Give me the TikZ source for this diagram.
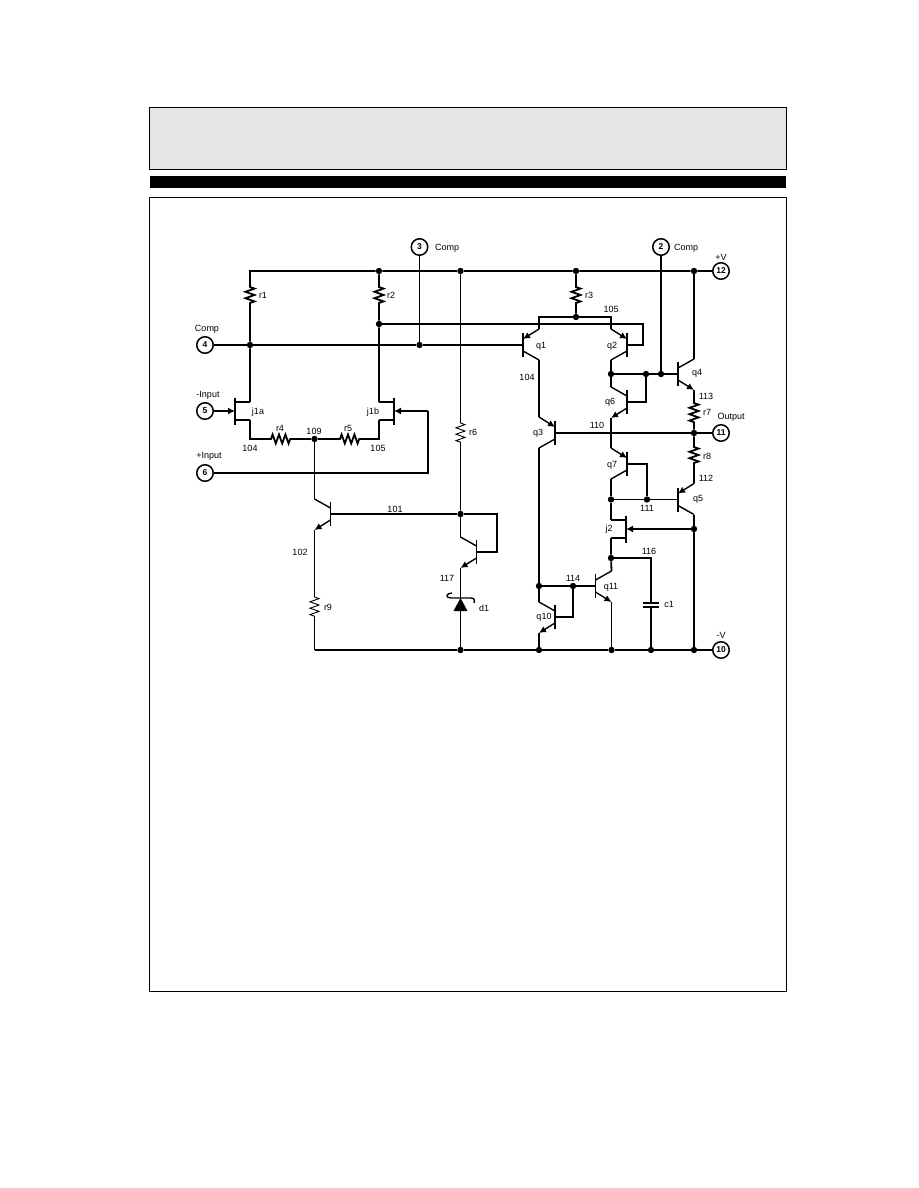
\documentclass[tikz,border=0pt]{standalone}
\usepackage{fontspec}
\setmainfont{Liberation Sans}
\usetikzlibrary{arrows.meta, decorations.pathmorphing}
\tikzset{
	frame/.style = {draw = black, line width = 0.9pt},
	wire/.style = {draw = black, line width = 1.8pt},
	thinwire/.style = {draw = black, line width = 0.9pt},
	arrow/.style = {wire, -{Latex[length = 7pt, width = 7pt]}},
	zz/.style = {decoration = {zigzag, segment length = 6.4, amplitude = 4.5}},
	junct/.style = {circle, fill = black, inner sep = 0pt, minimum size = 6.4pt},
	term/.style = {circle, draw = black, line width = 1.5pt, fill = white, inner sep = 0pt, minimum size = 16.5pt, font = \fontsize{8.5}{9}\selectfont\bfseries},
	lab/.style = {inner sep = 0pt, font = \fontsize{9}{10}\selectfont}
}
% transistors: name, x, y, side of the legs
\newcommand{\drawnpn}[4]{
	\coordinate (#1b) at (#2,#3);
	\coordinate (#1c) at (#2+#4*16,#3-15);
	\coordinate (#1e) at (#2+#4*16,#3+16);
	\draw [wire] (#2,#3-12) -- (#2,#3+12);
	\draw [thinwire, line width = 1.4pt] (#2,#3-6) -- (#1c);
	\draw [arrow, line width = 1.4pt] (#2,#3+6) -- (#1e);
}
\newcommand{\drawpnp}[4]{
	\coordinate (#1b) at (#2,#3);
	\coordinate (#1e) at (#2+#4*16,#3-16);
	\coordinate (#1c) at (#2+#4*16,#3+15);
	\draw [wire] (#2,#3-12) -- (#2,#3+12);
	\draw [thinwire, line width = 1.4pt] (#2,#3+6) -- (#1c);
	\draw [arrow, line width = 1.4pt] (#1e) -- (#2,#3-6);
}
\newcommand{\drawjfet}[4]{
	\coordinate (#1g) at (#2,#3);
	\coordinate (#1s) at (#2+#4*15,#3-9);
	\coordinate (#1d) at (#2+#4*15,#3+9);
	\draw [wire] (#2,#3-13.5) -- (#2,#3+13.5);
	\draw [wire] (#2,#3-9) -- (#1s);
	\draw [wire] (#2,#3+9) -- (#1d);
}
\begin{document}
\begin{tikzpicture}[x=1pt, y=-1pt]
	\useasboundingbox (0,0) rectangle (918,1188);
	%% page frames
	\draw [frame, fill = black!10] (149.5,107.5) rectangle (786,169);
	\fill [black] (149.5,176) rectangle (786,188);
	\draw [frame] (149.5,197) rectangle (786,991);

	% terminals
	\node (n2) [term] at (661,247) {2};
	\node (n3) [term] at (419.5,247) {3};
	\node (n4) [term] at (205,345) {4};
	\node (n5) [term] at (205,411) {5};
	\node (n6) [term] at (205,473) {6};
	\node (n10) [term] at (721,650) {10};
	\node (n11) [term] at (721,433) {11};
	\node (n12) [term] at (721,271) {12};

	% junctions
	\foreach \name/\px/\py in {vr1/379/271, vr2/460.5/271, vr3/576/271, vr4/694/271,
		jc1/250/345, jc2/419.5/345, jr2/379/324, je/576/317,
		jb1/611/374, jb2/646/374, jb3/661/374, jo/694/433,
		jm1/611/499.5, jm2/647/499.5, jm3/694/529, jm4/611/558, jm5/539/586, jm6/573/586,
		n109/314.5/439, n101/460.5/514,
		jg1/460.5/650, jg2/539/650, jg3/611.5/650, jg4/651/650, jg5/694/650}
		\node (\name) [junct] at (\px,\py) {};

	% bends and resistor ends
	\foreach \name/\px/\py in {tl/250/271, bl/314.5/650,
		r1a/250/287, r1b/250/306, r2a/379/287, r2b/379/306, r3a/576/287, r3b/576/306,
		r4a/271/439, r4b/291/439, r5a/340/439, r5b/360/439, r6a/460.5/423, r6b/460.5/443,
		r7a/694/403, r7b/694/423, r8a/694/447, r8b/694/466, r9a/314.5/597, r9b/314.5/617,
		a1/643/324, a2/643/345, et1/539/317, et2/611/317, b1/646/402, b2/647/464,
		ct1/651/558, c1a/651/603, c1b/651/607, c2/573/617,
		fb1/497/514, fb2/497/552, g1/428/473, g2/428/411,
		w1/250/439, w2/379/439, d1t/460.5/598, d1b/460.5/611,
		z1/452/593, z2/451/598, z3/471/598, z4/474/603}
		\coordinate (\name) at (\px,\py);

	% transistors
	\drawpnp{q1}{523}{345}{1}
	\drawpnp{q2}{627}{345}{-1}
	\drawpnp{q3}{555}{433}{-1}
	\drawpnp{q5}{678}{499.5}{1}
	\drawpnp{q7}{627}{464}{-1}
	\drawnpn{q4}{678}{374}{1}
	\drawnpn{q6}{627}{402}{-1}
	\drawnpn{q10}{555}{617}{-1}
	\drawnpn{q11}{595.5}{586}{1}
	\drawnpn{qs}{330.5}{514}{-1}
	\drawnpn{qd}{476.5}{552}{-1}
	\drawjfet{ja}{235}{411}{1}
	\drawjfet{jb}{394}{411}{-1}
	\drawjfet{jc}{626}{529}{-1}

	%%% wires %%%
	\draw [wire] (n12) -- (vr4) -- (vr3) -- (vr2) -- (vr1) -- (tl) -- (r1a) decorate[zz] {-- (r1b)} -- (jc1) -- (jas);
	\draw [wire] (vr1) -- (r2a) decorate[zz] {-- (r2b)} -- (jr2) -- (jbs);
	\draw [wire] (jr2) -- (a1) -- (a2) -- (q2b);
	\draw [wire] (n4) -- (jc1) -- (jc2) -- (q1b);
	\draw [thinwire] (n3) -- (jc2);
	\draw [wire] (vr3) -- (r3a) decorate[zz] {-- (r3b)} -- (je);
	\draw [wire] (q1e) -- (et1) -- (je) -- (et2) -- (q2e);
	\draw [wire] (q1c) -- (q3e);
	\draw [wire] (q2c) -- (jb1) -- (jb2) -- (jb3) -- (q4b);
	\draw [wire] (n2) -- (jb3);
	\draw [wire] (q4c) -- (vr4);
	\draw [wire] (q4e) -- (r7a) decorate[zz] {-- (r7b)} -- (jo);
	\draw [wire] (jb1) -- (q6c);
	\draw [wire] (q6b) -- (b1) -- (jb2);
	\draw [wire] (q6e) -- (q7e);
	\draw [wire] (q3b) -- (jo) -- (n11);
	\draw [wire] (q3c) -- (jm5) -- (jm6) -- (q11b);
	\draw [wire] (jo) -- (r8a) decorate[zz] {-- (r8b)} -- (q5e);
	\draw [wire] (q5c) -- (jm3) -- (jg5);
	\draw [wire] (q7b) -- (b2) -- (jm2);
	\draw [wire] (q7c) -- (jm1) -- (jcs);
	\draw [thinwire] (jm1) -- (jm2) -- (q5b);
	\draw [arrow] (jm3) -- (jcg);
	\draw [wire] (jcd) -- (jm4) -- (q11c);
	\draw [wire] (jm4) -- (ct1) -- (c1a);
	\draw [wire] (c1b) -- (jg4);
	\draw [wire] (c1a) ++(-8,0) -- ++(16,0);
	\draw [wire] (c1b) ++(-8,0) -- ++(16,0);
	\draw [thinwire] (q11e) -- (jg3);
	\draw [wire] (jm5) -- (q10c);
	\draw [wire] (q10e) -- (jg2);
	\draw [wire] (q10b) -- (c2) -- (jm6);
	\draw [wire] (bl) -- (jg1) -- (jg2) -- (jg3) -- (jg4) -- (jg5) -- (n10);
	\draw [thinwire] (n109) -- (qsc);
	\draw [thinwire] (qse) -- (r9a) decorate[zz] {-- (r9b)} -- (bl);
	\draw [wire] (qsb) -- (n101) -- (fb1) -- (fb2) -- (qdb);
	\draw [thinwire] (n101) -- (qdc);
	\draw [thinwire] (vr2) -- (r6a) decorate[zz] {-- (r6b)} -- (n101);
	\draw [thinwire] (qde) -- (d1t);
	\draw [thinwire] (d1b) -- (jg1);
	\draw [arrow] (n5) -- (jag);
	\draw [wire] (n6) -- (g1) -- (g2);
	\draw [arrow] (g2) -- (jbg);
	\draw [wire] (jad) -- (w1) -- (r4a) decorate[zz] {-- (r4b)} -- (n109) -- (r5a) decorate[zz] {-- (r5b)} -- (w2) -- (jbd);

	% zener d1
	\fill [black] (d1t) -- ++(-7,13) -- ++(14,0) -- cycle;
	\draw [thinwire, line width = 1.4pt] (z1) .. controls (446,593) and (445,598) .. (z2) -- (z3) .. controls (474,598) and (475,600) .. (z4);

	% labels
	\foreach \name/\px/\py/\txt in {lr1/263/295/r1, lr2/391/295/r2, lr3/589/295/r3, lr4/280/428/r4,
		lr5/348/428/r5, lr6/473/432/r6, lr7/707/412/r7, lr8/707/456/r8, lr9/328/607/r9,
		lq1/541/346/q1, lq2/612/346/q2, lq3/538/433/q3, lq4/697/373/q4, lq5/698/499/q5,
		lq6/610/402/q6, lq7/612/465/q7, lq10/544/617/q10, lq11/611/587/q11,
		lja/258/412/j1a, ljb/373/412/j1b, ljc/609/529/j2, lc1/669/604/c1, ld1/484/608/d1,
		t101/395/509/101, t102/300/552/102, t104a/250/448/104, t104b/527/377/104,
		t105a/378/448/105, t105b/611/309/105, t109/314/431/109, t110/597/425/110,
		t111/647/508/111, t112/706/478/112, t113/706/396/113, t114/573/578/114,
		t116/649/551/116, t117/447/578/117,
		lc3/447/248/Comp, lc2/686/248/Comp, lc4/207/329/Comp, lin5/208/395/-Input,
		lin6/209/456/+Input, lout/731/417/Output, lpv/721/257/+V, lmv/721/635/-V}
		\node (\name) [lab] at (\px,\py) {\txt};
\end{tikzpicture}
\end{document}
